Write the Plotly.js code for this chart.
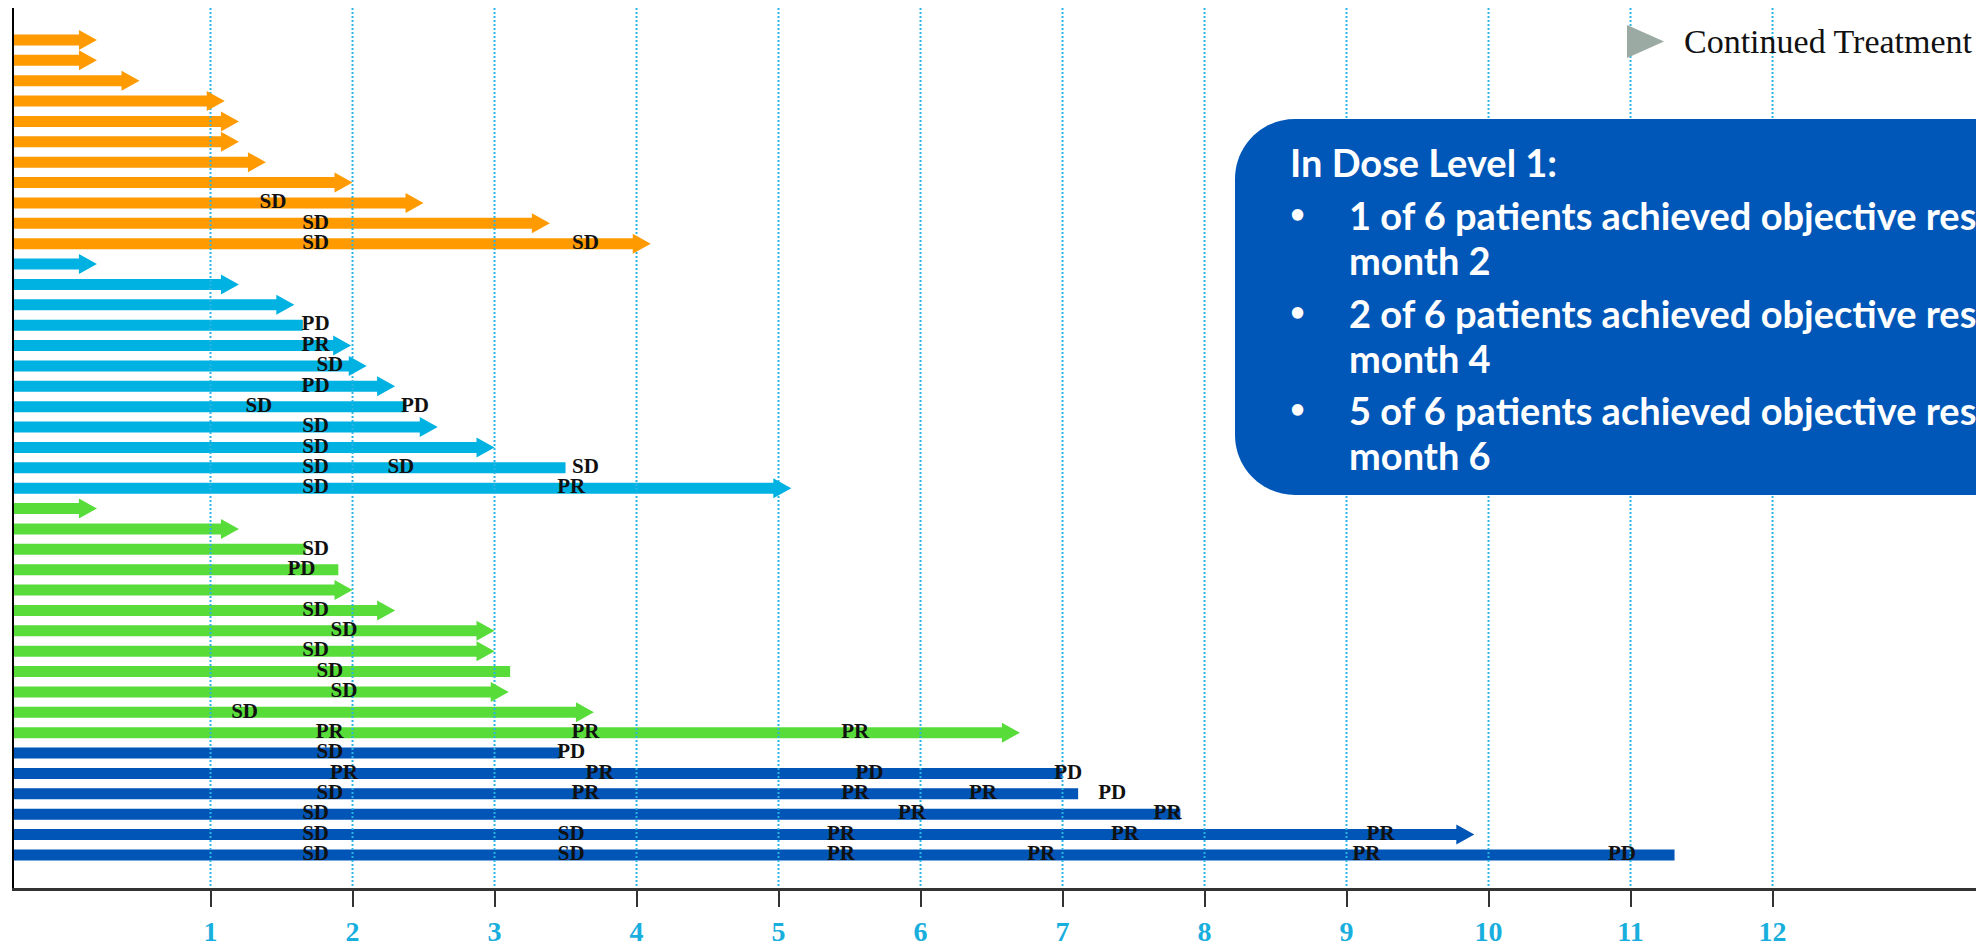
<!DOCTYPE html>
<html>
<head>
<meta charset="utf-8">
<script src="https://cdn.plot.ly/plotly-3.0.1.min.js"></script>
<style>
  html, body { margin: 0; padding: 0; background: #fff; overflow: hidden; }
  #chart { width: 1976px; height: 948px; }
</style>
</head>
<body>
<div id="chart"></div>
<script>
// Time on treatment (months) for each patient, top to bottom within each cohort.
// "Ongoing" = 1 when the patient continues treatment (drawn with an arrowhead).
const orangeEnds    = [0.20, 0.20, 0.50, 1.10, 1.20, 1.20, 1.39, 2.00, 2.50, 3.39, 4.10];
const orangeOngoing = [1, 1, 1, 1, 1, 1, 1, 1, 1, 1, 1];

const cyanEnds      = [0.20, 1.20, 1.59, 1.65, 1.99, 2.10, 2.30, 2.37, 2.60, 3.00, 3.50, 5.09];
const cyanOngoing   = [1, 1, 1, 0, 1, 1, 1, 0, 1, 1, 0, 1];

const greenEnds     = [0.20, 1.20, 1.67, 1.90, 2.00, 2.30, 3.00, 3.00, 3.11, 3.10, 3.70, 6.70];
const greenOngoing  = [1, 1, 0, 0, 1, 1, 1, 1, 0, 1, 1, 1];

const blueEnds      = [3.46, 7.00, 7.11, 7.83, 9.90, 11.31];
const blueOngoing   = [0, 0, 0, 0, 1, 0];

// Response assessments: patient row (1 = top), time (months), response code.
const assessRow = [
  9, 10, 11, 11,
  15, 16, 17, 18, 19, 19, 20, 21, 22, 22, 22, 23, 23,
  26, 27, 29, 30, 31, 32, 33, 34, 35, 35, 35,
  36, 36,
  37, 37, 37, 37,
  38, 38, 38, 38, 38,
  39, 39, 39,
  40, 40, 40, 40, 40,
  41, 41, 41, 41, 41, 41
];
const assessMonth = [
  1.44, 1.74, 1.74, 3.64,
  1.74, 1.74, 1.84, 1.74, 1.34, 2.44, 1.74, 1.74, 1.74, 2.34, 3.64, 1.74, 3.54,
  1.74, 1.64, 1.74, 1.94, 1.74, 1.84, 1.94, 1.24, 1.84, 3.64, 5.54,
  1.84, 3.54,
  1.94, 3.74, 5.64, 7.04,
  1.84, 3.64, 5.54, 6.44, 7.35,
  1.74, 5.94, 7.74,
  1.74, 3.54, 5.44, 7.44, 9.24,
  1.74, 3.54, 5.44, 6.85, 9.14, 10.94
];
const assessCode = [
  'SD', 'SD', 'SD', 'SD',
  'PD', 'PR', 'SD', 'PD', 'SD', 'PD', 'SD', 'SD', 'SD', 'SD', 'SD', 'SD', 'PR',
  'SD', 'PD', 'SD', 'SD', 'SD', 'SD', 'SD', 'SD', 'PR', 'PR', 'PR',
  'SD', 'PD',
  'PR', 'PR', 'PD', 'PD',
  'SD', 'PR', 'PR', 'PR', 'PD',
  'SD', 'PR', 'PR',
  'SD', 'SD', 'PR', 'PR', 'PR',
  'SD', 'SD', 'PR', 'PR', 'PR', 'PD'
];

// Month axis
const monthTicks  = [1, 2, 3, 4, 5, 6, 7, 8, 9, 10, 11, 12];
const monthLabels = ['1', '2', '3', '4', '5', '6', '7', '8', '9', '10', '11', '12'];

// Summary box text
const boxTitle   = 'In Dose Level 1:';
const boxBullets = [
  '1 of 6 patients achieved objective response by',
  '2 of 6 patients achieved objective response by',
  '5 of 6 patients achieved objective response by'
];
const boxSecond  = ['month 2', 'month 4', 'month 6'];
const legendText = 'Continued Treatment';

// ---- layout geometry ----
const W = 1976, H = 948;
const M = { l: 14, r: 0, t: 8, b: 60 };
const X_MIN = -0.384, X_MAX = 13.433;
const Y_TOP = -0.57, Y_BOTTOM = 42.62;
const pxPerMonth = (W - M.l - M.r) / (X_MAX - X_MIN);
const HEAD_LEN = 18, HEAD_HALF = 10;

// pixel -> paper helpers for the decorations
const px = x => (x - M.l) / (W - M.l - M.r);
const py = y => (H - M.b - y) / (H - M.t - M.b);

const groups = [
  { ends: orangeEnds, ongoing: orangeOngoing, color: '#FF9A00' },
  { ends: cyanEnds,   ongoing: cyanOngoing,   color: '#00B2E2' },
  { ends: greenEnds,  ongoing: greenOngoing,  color: '#58DC3A' },
  { ends: blueEnds,   ongoing: blueOngoing,   color: '#0055B6' }
];

const traces = [];
const shapes = [];
let row = 1;
groups.forEach(g => {
  const rows = g.ends.map((_, i) => row + i);
  row += g.ends.length;
  // shaft stops just short of the arrowhead tip for ongoing patients
  const lengths = g.ends.map((e, i) =>
    (g.ongoing[i] ? e - (HEAD_LEN - 2) / pxPerMonth : e) - X_MIN);
  traces.push({
    type: 'bar', orientation: 'h',
    y: rows, x: lengths, base: X_MIN, width: 0.54,
    marker: { color: g.color, line: { width: 0 } },
    hoverinfo: 'skip'
  });
  g.ends.forEach((e, i) => {
    if (!g.ongoing[i]) return;
    shapes.push({
      type: 'path', xref: 'x', yref: 'y',
      xsizemode: 'pixel', ysizemode: 'pixel',
      xanchor: e, yanchor: rows[i],
      path: `M${-HEAD_LEN},${-HEAD_HALF} L0,0 L${-HEAD_LEN},${HEAD_HALF} Z`,
      fillcolor: g.color, line: { width: 0 }, layer: 'above'
    });
  });
});

// dotted month gridlines, drawn over the bars
const gx = [], gy = [];
monthTicks.forEach(v => { gx.push(v, v, null); gy.push(Y_TOP, Y_BOTTOM, null); });
traces.push({
  type: 'scatter', mode: 'lines', x: gx, y: gy,
  line: { color: '#2AB5E5', width: 2, dash: '2px,2px' },
  hoverinfo: 'skip'
});

// response codes
traces.push({
  type: 'scatter', mode: 'text',
  x: assessMonth, y: assessRow, text: assessCode,
  textposition: 'middle center', cliponaxis: false,
  textfont: { family: 'Liberation Serif', size: 21, color: '#111', weight: 'bold' },
  hoverinfo: 'skip'
});

// summary box (rounded left corners, runs off the right edge)
const bx = { l: 1235, t: 119, b: 495, r: 2020, rad: 60 };
const k = 0.5523 * bx.rad;
shapes.push({
  type: 'path', xref: 'paper', yref: 'paper', layer: 'above',
  fillcolor: '#0057B7', line: { width: 0 },
  path:
    `M${px(bx.l + bx.rad)},${py(bx.t)} L${px(bx.r)},${py(bx.t)} L${px(bx.r)},${py(bx.b)} ` +
    `L${px(bx.l + bx.rad)},${py(bx.b)} ` +
    `C${px(bx.l + bx.rad - k)},${py(bx.b)} ${px(bx.l)},${py(bx.b - bx.rad + k)} ${px(bx.l)},${py(bx.b - bx.rad)} ` +
    `L${px(bx.l)},${py(bx.t + bx.rad)} ` +
    `C${px(bx.l)},${py(bx.t + bx.rad - k)} ${px(bx.l + bx.rad - k)},${py(bx.t)} ${px(bx.l + bx.rad)},${py(bx.t)} Z`
});

// legend key triangle
shapes.push({
  type: 'path', xref: 'paper', yref: 'paper', layer: 'above',
  fillcolor: '#9BAAA3', line: { width: 0 },
  path: `M${px(1627)},${py(25)} L${px(1664)},${py(41.5)} L${px(1627)},${py(58)} Z`
});

const boxFont = { family: 'Lato', size: 38, color: '#ffffff', weight: 700 };
const dotFont = { family: 'Lato', size: 26, color: '#ffffff', weight: 700 };
const annotations = [];
const note = (text, x, y, font, xanchor) => annotations.push({
  xref: 'paper', yref: 'paper', x: px(x), y: py(y), text,
  xanchor: xanchor || 'left', yanchor: 'middle', showarrow: false, font
});

note(legendText, 1682, 41.5, { family: 'Liberation Serif', size: 34, color: '#111' });
note(boxTitle, 1288, 162, boxFont);
const bulletY = [215, 312.5, 410];
boxBullets.forEach((t, i) => {
  note('•', 1297, bulletY[i] - 2, dotFont, 'center');
  note(t, 1347, bulletY[i], boxFont);
  note(boxSecond[i], 1347, bulletY[i] + 45, boxFont);
});

const layout = {
  width: W, height: H,
  margin: M,
  paper_bgcolor: '#ffffff', plot_bgcolor: '#ffffff',
  showlegend: false,
  barmode: 'overlay',
  xaxis: {
    range: [X_MIN, X_MAX],
    tickvals: monthTicks, ticktext: monthLabels,
    ticks: 'outside', ticklen: 16, tickwidth: 2, tickcolor: '#333',
    showline: true, linecolor: '#333', linewidth: 3,
    showgrid: false, zeroline: false,
    ticklabelstandoff: 0,
    tickfont: { family: 'Liberation Serif', size: 28, color: '#18AEDD', weight: 'bold' }
  },
  yaxis: {
    range: [Y_BOTTOM, Y_TOP],
    showline: true, linecolor: '#000', linewidth: 2,
    showticklabels: false, ticks: '', showgrid: false, zeroline: false
  },
  shapes, annotations
};

Plotly.newPlot('chart', traces, layout, { staticPlot: true, displayModeBar: false });
</script>
</body>
</html>
